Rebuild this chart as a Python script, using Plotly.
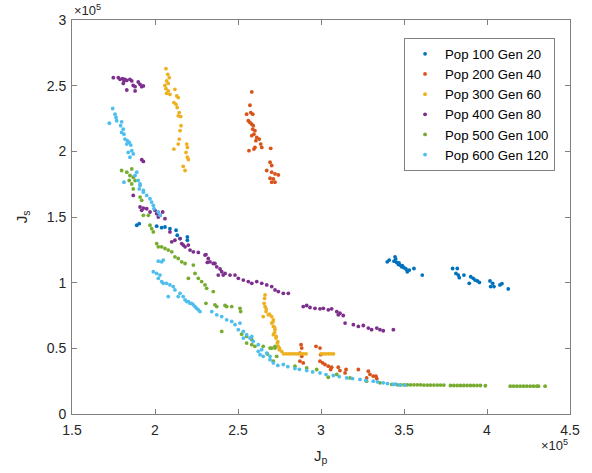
import plotly.graph_objects as go
import numpy as np

SCALE = 1e5  # axis multiplier shown as x10^5

series_names = ["Pop 100 Gen 20", "Pop 200 Gen 40", "Pop 300 Gen 60",
                "Pop 400 Gen 80", "Pop 500 Gen 100", "Pop 600 Gen 120"]
series_colors = ["#0072BD", "#D95319", "#EDB120", "#7E2F8E", "#77AC30", "#4DBEEE"]

# values in units of 1e5
pop100_jp = [1.890, 1.905, 2.010, 2.040, 2.060, 2.090, 2.127, 2.134, 2.151, 2.195, 2.195,
             3.399, 3.411, 3.446, 3.440, 3.456, 3.466, 3.476, 3.486, 3.500, 3.512, 3.520, 3.532, 3.560, 3.610,
             3.450, 3.470, 3.490,
             3.793, 3.821, 3.813, 3.827, 3.833, 3.861, 3.902, 3.917, 3.928, 3.942, 3.954, 3.893,
             4.018, 4.034, 4.022, 4.042, 4.078, 4.090, 4.128]
pop100_js = [1.437, 1.449, 1.430, 1.419, 1.424, 1.411, 1.399, 1.361, 1.336, 1.348, 1.323,
             1.159, 1.172, 1.197, 1.164, 1.154, 1.139, 1.134, 1.121, 1.114, 1.104, 1.083, 1.096, 1.108, 1.058,
             1.180, 1.150, 1.130,
             1.108, 1.108, 1.070, 1.058, 1.038, 1.058, 1.045, 1.033, 1.020, 1.013, 1.002, 0.995,
             1.013, 0.995, 0.970, 0.970, 0.983, 0.992, 0.952]

pop200_jp = [2.583, 2.572, 2.552, 2.577, 2.589, 2.562, 2.572, 2.583, 2.592, 2.589, 2.602,
             2.596, 2.583, 2.613, 2.608, 2.628, 2.637, 2.643, 2.602, 2.596, 2.566, 2.697,
             2.693, 2.703, 2.673, 2.703, 2.723, 2.743, 2.693, 2.713, 2.703, 2.723,
             2.880, 2.884, 2.873, 2.884, 2.873, 2.893, 2.970, 2.994, 2.998, 2.994, 3.010, 3.024, 3.044,
             3.064, 3.058, 3.104, 3.114, 3.151, 3.145, 3.225, 3.285, 3.295, 3.315, 3.331, 3.275, 3.336]
pop200_js = [2.452, 2.351, 2.283, 2.295, 2.283, 2.233, 2.220, 2.207, 2.195, 2.169, 2.157,
             2.131, 2.119, 2.106, 2.081, 2.093, 2.055, 2.030, 2.030, 2.017, 2.005, 2.023,
             1.917, 1.892, 1.854, 1.841, 1.828, 1.820, 1.795, 1.790, 1.765, 1.765,
             0.528, 0.502, 0.464, 0.439, 0.402, 0.389, 0.515, 0.502, 0.452, 0.402, 0.389, 0.377, 0.364,
             0.356, 0.339, 0.356, 0.331, 0.339, 0.313, 0.339, 0.326, 0.301, 0.288, 0.288, 0.275, 0.270]

pop300_jp = [2.066, 2.077, 2.086, 2.070, 2.060, 2.080, 2.066, 2.080, 2.090, 2.070, 2.120,
             2.131, 2.140, 2.114, 2.127, 2.134, 2.146, 2.140, 2.155, 2.157, 2.151, 2.146,
             2.140, 2.114, 2.191, 2.195, 2.187, 2.195, 2.201, 2.170, 2.181,
             2.663, 2.657, 2.663, 2.669, 2.652, 2.683, 2.703, 2.713, 2.703, 2.713, 2.723, 2.713,
             2.729, 2.737, 2.743, 2.749, 2.763,
             2.660, 2.670, 2.690, 2.710, 2.720, 2.720, 2.730, 2.740, 2.750,
             2.775, 2.790, 2.805, 2.820, 2.835, 2.850, 2.865, 2.880, 2.895, 2.910,
             3.000, 3.015, 3.030, 3.045, 3.060, 3.075]
pop300_js = [2.629, 2.586, 2.561, 2.536, 2.502, 2.517, 2.477, 2.460, 2.434, 2.442, 2.472,
             2.422, 2.409, 2.371, 2.358, 2.333, 2.295, 2.270, 2.265, 2.195, 2.157, 2.093,
             2.055, 2.017, 2.055, 2.030, 1.992, 1.955, 1.937, 1.886, 1.854,
             0.907, 0.843, 0.818, 0.780, 0.742, 0.755, 0.742, 0.717, 0.692, 0.667, 0.642, 0.604,
             0.578, 0.540, 0.515, 0.490, 0.477,
             0.880, 0.800, 0.760, 0.700, 0.660, 0.620, 0.590, 0.550, 0.500,
             0.458, 0.458, 0.458, 0.458, 0.458, 0.458, 0.458, 0.458, 0.458, 0.458,
             0.458, 0.458, 0.458, 0.458, 0.458, 0.458]

pop400_jp = [1.749, 1.779, 1.789, 1.805, 1.813, 1.819, 1.830, 1.849, 1.860, 1.809, 1.869,
             1.880, 1.899, 1.910, 1.920, 1.930, 1.880, 1.830,
             1.920, 1.930, 1.869, 1.910, 1.930, 1.950, 1.920, 1.970, 2.000, 2.010, 2.030, 2.046,
             2.020, 2.060, 2.090, 2.101, 2.120, 2.151, 2.161, 2.170, 2.181, 2.201, 2.211, 2.231,
             2.261, 2.307, 2.321, 2.331, 2.315, 2.361, 2.372, 2.392, 2.402, 2.422, 2.411, 2.381,
             2.301, 2.351, 2.452, 2.482, 2.502, 2.532, 2.562, 2.583, 2.613, 2.643, 2.673, 2.703,
             2.723, 2.743, 2.773, 2.803,
             2.893, 2.914, 2.934, 2.964, 2.994, 3.014, 3.044, 3.064, 3.095, 3.114, 3.134, 3.104,
             3.145, 3.195, 3.225, 3.255, 3.285, 3.305, 3.336, 3.355, 3.375, 3.436]
pop400_js = [2.561, 2.561, 2.548, 2.553, 2.536, 2.548, 2.540, 2.548, 2.536, 2.517, 2.502,
             2.492, 2.528, 2.510, 2.492, 2.498, 2.460, 2.467,
             1.936, 1.923, 1.664, 1.576, 1.568, 1.563, 1.551, 1.538, 1.551, 1.525, 1.513, 1.538,
             1.500, 1.487, 1.386, 1.311, 1.323, 1.336, 1.298, 1.286, 1.273, 1.286, 1.248, 1.235,
             1.230, 1.214, 1.184, 1.159, 1.154, 1.146, 1.121, 1.104, 1.083, 1.070, 1.058, 1.058,
             1.210, 1.146, 1.058, 1.058, 1.033, 1.020, 1.008, 0.995, 1.008, 0.995, 0.983, 0.970,
             0.945, 0.932, 0.919, 0.919,
             0.818, 0.826, 0.811, 0.805, 0.801, 0.805, 0.793, 0.801, 0.780, 0.767, 0.750, 0.755,
             0.692, 0.680, 0.667, 0.674, 0.654, 0.642, 0.654, 0.642, 0.634, 0.642]

pop500_jp = [1.799, 1.830, 1.860, 1.849, 1.869, 1.845, 1.880, 1.869, 1.860,
             1.910, 1.920, 1.930, 1.960, 1.970, 1.980, 1.990,
             2.010, 2.020, 2.040, 2.060, 2.080, 2.101, 2.120, 2.140, 2.161, 2.181,
             2.231, 2.201, 2.241, 2.261, 2.281, 2.301, 2.311, 2.351,
             2.307, 2.361, 2.372, 2.432, 2.422, 2.462, 2.512, 2.516,
             2.402, 2.522, 2.552, 2.583, 2.693, 2.723, 2.677,
             2.552, 2.583, 2.602, 2.652, 2.703, 2.723, 2.713, 2.733, 2.843, 2.914, 2.974,
             3.044, 3.095, 3.175, 3.275, 3.355, 3.426,
             3.46, 3.48, 3.50, 3.52, 3.54, 3.56, 3.58, 3.60,
             3.62, 3.64, 3.66, 3.68, 3.70, 3.72, 3.74,
             3.78, 3.80, 3.82, 3.84, 3.86, 3.88, 3.90, 3.92, 3.94, 3.96, 3.99,
             4.14, 4.16, 4.18, 4.20, 4.22, 4.24, 4.26, 4.28, 4.30, 4.31, 4.35]
pop500_js = [1.854, 1.841, 1.866, 1.816, 1.803, 1.778, 1.778, 1.714, 1.752,
             1.652, 1.627, 1.513, 1.513, 1.437, 1.411, 1.386,
             1.298, 1.273, 1.273, 1.260, 1.248, 1.235, 1.197, 1.184, 1.159, 1.146,
             1.134, 1.033, 1.070, 1.033, 1.008, 0.983, 0.957, 0.932,
             0.843, 0.831, 0.818, 0.818, 0.826, 0.818, 0.805, 0.780,
             0.629, 0.608, 0.591, 0.566, 0.502, 0.502, 0.457,
             0.540, 0.528, 0.515, 0.515, 0.502, 0.515, 0.402, 0.439, 0.364, 0.351, 0.339,
             0.280, 0.301, 0.275, 0.250, 0.237, 0.225,
             0.222, 0.222, 0.222, 0.222, 0.222, 0.222, 0.222, 0.222,
             0.220, 0.220, 0.220, 0.220, 0.220, 0.220, 0.220,
             0.217, 0.217, 0.217, 0.217, 0.217, 0.217, 0.217, 0.217, 0.217, 0.217, 0.215,
             0.212, 0.212, 0.212, 0.212, 0.212, 0.212, 0.212, 0.212, 0.212, 0.212, 0.212]

pop600_jp = [1.745, 1.759, 1.765, 1.769, 1.725, 1.799, 1.793, 1.809, 1.799, 1.813, 1.819, 1.833,
             1.845, 1.830, 1.854, 1.839, 1.860, 1.869, 1.849, 1.890, 1.880, 1.813, 1.899, 1.910,
             1.905, 1.930, 1.910, 1.930, 1.950, 1.970, 1.980, 1.990, 1.994, 2.020, 2.030,
             2.040, 2.020, 2.050, 1.990, 2.010, 2.030, 2.020, 2.040, 2.050, 2.070, 2.090, 2.110,
             2.120, 2.151, 2.170, 2.181, 2.140, 2.080, 2.201, 2.221, 2.241, 2.261, 2.191, 2.211,
             2.231, 2.251, 2.271,
             2.342, 2.372, 2.402, 2.432, 2.462, 2.482, 2.502, 2.532, 2.552, 2.572, 2.592, 2.622,
             2.643, 2.633, 2.673, 2.693, 2.512, 2.583, 2.532, 2.622, 2.652, 2.693, 2.713, 2.773,
             2.843, 2.914, 2.994, 3.074, 3.155, 3.235, 3.315, 3.375, 3.436, 3.476, 3.506,
             2.740, 2.800, 2.870, 2.950, 3.030, 3.110, 3.190, 3.270, 3.340, 3.400, 3.450]
pop600_js = [2.326, 2.283, 2.258, 2.233, 2.214, 2.225, 2.195, 2.169, 2.144, 2.131, 2.093, 2.081,
             2.068, 2.055, 2.048, 1.992, 2.005, 1.980, 1.955, 1.841, 1.816, 1.765, 1.778, 1.752,
             1.714, 1.702, 1.740, 1.689, 1.664, 1.639, 1.614, 1.589, 1.563, 1.538, 1.513,
             1.159, 1.164, 1.172, 1.083, 1.070, 1.058, 1.033, 1.008, 0.995, 0.995, 0.983, 0.970,
             0.945, 0.919, 0.894, 0.869, 0.894, 0.894, 0.856, 0.843, 0.818, 0.793, 0.856, 0.843,
             0.831, 0.805, 0.780,
             0.780, 0.755, 0.742, 0.717, 0.705, 0.680, 0.642, 0.629, 0.604, 0.578, 0.553, 0.528,
             0.490, 0.452, 0.464, 0.439, 0.692, 0.591, 0.578, 0.477, 0.439, 0.414, 0.389, 0.377,
             0.346, 0.331, 0.313, 0.293, 0.275, 0.263, 0.250, 0.237, 0.225, 0.220, 0.220,
             0.370, 0.360, 0.340, 0.320, 0.300, 0.285, 0.270, 0.255, 0.245, 0.232, 0.228]

x_ticks = [1.5, 2, 2.5, 3, 3.5, 4, 4.5]
x_tick_labels = ["1.5", "2", "2.5", "3", "3.5", "4", "4.5"]
y_ticks = [0, 0.5, 1, 1.5, 2, 2.5, 3]
y_tick_labels = ["0", "0.5", "1", "1.5", "2", "2.5", "3"]

all_x = [pop100_jp, pop200_jp, pop300_jp, pop400_jp, pop500_jp, pop600_jp]
all_y = [pop100_js, pop200_js, pop300_js, pop400_js, pop500_js, pop600_js]

FONT = "Liberation Sans, Arial, Helvetica, sans-serif"
AX = "#262626"

fig = go.Figure()
for name, color, xs, ys in zip(series_names, series_colors, all_x, all_y):
    fig.add_trace(go.Scatter(
        x=np.array(xs) * SCALE, y=np.array(ys) * SCALE, mode="markers", name=name,
        marker=dict(color=color, size=3.8, line=dict(width=0)),
    ))

axis_common = dict(showgrid=False, zeroline=False, showline=True, linecolor="#808080",
                   linewidth=1, mirror="ticks", ticks="inside", ticklen=5, tickcolor="#808080",
                   tickfont=dict(family=FONT, size=14, color=AX))

fig.update_layout(
    width=592, height=473,
    margin=dict(l=72, r=22, t=17, b=59),
    paper_bgcolor="white", plot_bgcolor="white",
    font=dict(family=FONT, size=14, color=AX),
    xaxis=dict(range=[1.5 * SCALE, 4.5 * SCALE], tickvals=[v * SCALE for v in x_ticks],
               ticktext=x_tick_labels, ticklabelstandoff=3, **axis_common),
    yaxis=dict(range=[0, 3 * SCALE], tickvals=[v * SCALE for v in y_ticks],
               ticktext=y_tick_labels, ticklabelstandoff=2, **axis_common),
    showlegend=True,
    legend=dict(x=0.97, xanchor="right", y=0.955, yanchor="top",
                bordercolor="#808080", borderwidth=1, bgcolor="white",
                tracegroupgap=0, itemwidth=30,
                font=dict(family=FONT, size=13.2, color="#000000")),
    annotations=[
        dict(text="J<sub>p</sub>", xref="paper", yref="paper", x=0.5, y=-0.108,
             xanchor="center", yanchor="middle", showarrow=False,
             font=dict(family=FONT, size=15, color=AX)),
        dict(text="J<sub>s</sub>", xref="paper", yref="paper", x=-0.1, y=0.5,
             xanchor="center", yanchor="middle", showarrow=False, textangle=-90,
             font=dict(family=FONT, size=15, color=AX)),
        dict(text="×10<sup>5</sup>", xref="paper", yref="paper", x=0, y=1,
             xanchor="left", yanchor="bottom", showarrow=False,
             font=dict(family=FONT, size=13, color=AX)),
        dict(text="×10<sup>5</sup>", xref="paper", yref="paper", x=1, y=-0.078,
             xanchor="right", yanchor="middle", showarrow=False,
             font=dict(family=FONT, size=13, color=AX)),
    ],
)

fig.write_html("out.html")
